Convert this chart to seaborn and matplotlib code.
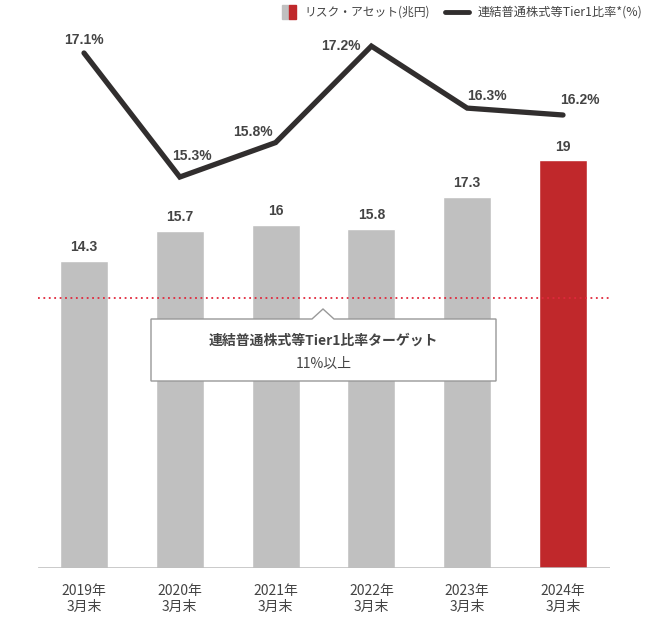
import numpy as np
import pandas as pd
import matplotlib
matplotlib.use("Agg")
import matplotlib.pyplot as plt
from matplotlib.patches import Rectangle, Polygon
from matplotlib.lines import Line2D
import seaborn as sns

# ── data ─────────────────────────────────────────────────────────
YEARS   = ["2019年\n3月末", "2020年\n3月末", "2021年\n3月末",
           "2022年\n3月末", "2023年\n3月末", "2024年\n3月末"]
RWA     = [14.3, 15.7, 16.0, 15.8, 17.3, 19.0]       # リスク・アセット(兆円)
RWA_LBL = ["14.3", "15.7", "16", "15.8", "17.3", "19"]
CET1    = [17.1, 15.3, 15.8, 17.2, 16.3, 16.2]       # 連結普通株式等Tier1比率(%)
BAR_COL = ["#c0c0c0"] * 5 + ["#c0282b"]
TARGET_Y = 12.6   # position of dotted target line on bar scale

GRAY_TXT = "#444444"
LINE_COL = "#312e2e"
NUM_FONT = ["Liberation Sans", "DejaVu Sans"]

sns.set_style("white")
plt.rcParams["font.family"] = ["Noto Sans CJK JP", "DejaVu Sans"]

W, H = 650, 621
fig = plt.figure(figsize=(W / 100, H / 100), dpi=100)

def fx(px):  # pixel x -> figure fraction
    return px / W

def fy(py):  # pixel y (from top) -> figure fraction
    return 1 - py / H

ax_left, ax_right, ax_top, ax_bot = 38, 610, 20, 568
ax = fig.add_axes([fx(ax_left), fy(ax_bot),
                   fx(ax_right) - fx(ax_left), fy(ax_top) - fy(ax_bot)])

df = pd.DataFrame({"year": YEARS, "rwa": RWA})
sns.barplot(data=df, x="year", y="rwa", hue="year", palette=BAR_COL,
            width=0.5, legend=False, ax=ax, saturation=1)

x0 = (ax_left - 84) / 95.8
x1 = (ax_right - 84) / 95.8
ax.set_xlim(x0, x1)
ax.set_ylim(0, (ax_bot - ax_top) / 21.45)

for i, (v, lbl) in enumerate(zip(RWA, RWA_LBL)):
    ax.annotate(lbl, (i, v), xytext=(0, 5), textcoords="offset points",
                ha="center", va="bottom", fontsize=10, fontweight="bold",
                color=GRAY_TXT, family=NUM_FONT)

ax.axhline(TARGET_Y, color="#e0283c", linestyle=(0, (1, 2)), linewidth=1.3)
ax.axhline(0, color="#bbbbbb", linewidth=1.8)

ax.set_xlabel("")
ax.set_ylabel("")
ax.set_yticks([])
ax.tick_params(axis="x", length=0, labelsize=10, labelcolor=GRAY_TXT, pad=11.5)
for sp in ax.spines.values():
    sp.set_visible(False)

# ── ratio line on twin axis ────────────────────────────────────
ax2 = ax.twinx()
lo = 17.1 - (ax_bot - 53) / 68.9
hi = lo + (ax_bot - ax_top) / 68.9
sns.lineplot(x=np.arange(len(CET1)), y=CET1, ax=ax2, color=LINE_COL,
             linewidth=3.8, solid_joinstyle="miter", solid_capstyle="round")
ax2.set_ylim(lo, hi)
ax2.set_yticks([])
ax2.set_ylabel("")
for sp in ax2.spines.values():
    sp.set_visible(False)

offs = [(0, 4.5), (9, 10), (-16, 2.5), (-22, -5), (14, 4), (12, 6)]
for i, (v, o) in enumerate(zip(CET1, offs)):
    ax2.annotate(f"{v:.1f}%", (i, v), xytext=o, textcoords="offset points",
                 ha="center", va="bottom", fontsize=10, fontweight="bold",
                 color=GRAY_TXT, family=NUM_FONT)

# ── callout box ────────────────────────────────────────────────
bl, br, bt, bb = 151, 496, 319, 381
tip_x, tip_y = 323, 309
pts = [(bl, bt), (tip_x - 11, bt), (tip_x, tip_y), (tip_x + 11, bt),
       (br, bt), (br, bb), (bl, bb)]
fig.patches.append(Polygon([(fx(a), fy(b)) for a, b in pts], closed=True,
                           transform=fig.transFigure, facecolor="white",
                           edgecolor="#999999", linewidth=1, zorder=5))
fig.text(fx((bl + br) / 2), fy(341), "連結普通株式等Tier1比率ターゲット",
         ha="center", va="center", fontsize=10, fontweight="bold",
         color=GRAY_TXT, zorder=6)
fig.text(fx((bl + br) / 2), fy(364), "11%以上", ha="center", va="center",
         fontsize=10, color=GRAY_TXT, zorder=6)

# ── legend ─────────────────────────────────────────────────────
fig.patches.append(Rectangle((fx(282), fy(19)), fx(7), fy(5) - fy(19),
                             transform=fig.transFigure, color="#c0c0c0"))
fig.patches.append(Rectangle((fx(289), fy(19)), fx(7), fy(5) - fy(19),
                             transform=fig.transFigure, color="#c0282b"))
fig.text(fx(304), fy(12), "リスク・アセット(兆円)", ha="left", va="center",
         fontsize=8.5, color=GRAY_TXT)
fig.lines.append(Line2D([fx(445), fx(469)], [fy(12), fy(12)],
                        transform=fig.transFigure, color=LINE_COL,
                        linewidth=3.5, solid_capstyle="round"))
fig.text(fx(478), fy(12), "連結普通株式等Tier1比率*(%)", ha="left",
         va="center", fontsize=8.8, color=GRAY_TXT)

fig.savefig("out.png", dpi=100)
